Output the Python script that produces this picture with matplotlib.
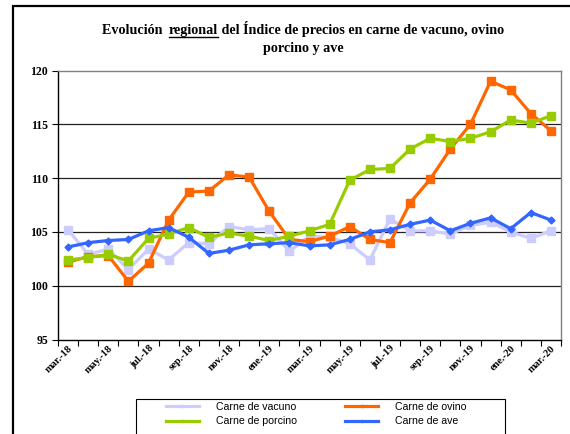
import matplotlib
matplotlib.use('Agg')
import matplotlib.pyplot as plt
from matplotlib.patches import Rectangle

# monthly index, mar-18 .. mar-20
months = ['mar.-18', 'abr.-18', 'may.-18', 'jun.-18', 'jul.-18', 'ago.-18', 'sep.-18',
          'oct.-18', 'nov.-18', 'dic.-18', 'ene.-19', 'feb.-19', 'mar.-19', 'abr.-19',
          'may.-19', 'jun.-19', 'jul.-19', 'ago.-19', 'sep.-19', 'oct.-19', 'nov.-19',
          'dic.-19', 'ene.-20', 'feb.-20', 'mar.-20']

vacuno = [105.2, 102.9, 103.4, 101.5, 103.4, 102.4, 104.0, 103.9, 105.5, 105.2, 105.3,
          103.2, 104.6, 104.5, 103.9, 102.4, 106.2, 105.1, 105.1, 104.8, 105.6, 105.9,
          105.0, 104.4, 105.1]
ovino = [102.2, 102.7, 102.8, 100.4, 102.1, 106.1, 108.7, 108.8, 110.3, 110.1, 106.9,
         104.3, 104.1, 104.6, 105.5, 104.3, 104.0, 107.7, 109.9, 112.7, 115.0, 119.0,
         118.2, 116.0, 114.4]
porcino = [102.4, 102.6, 102.9, 102.3, 104.4, 104.8, 105.4, 104.5, 104.9, 104.6, 104.2,
           104.6, 105.1, 105.7, 109.8, 110.8, 110.9, 112.7, 113.7, 113.4, 113.7, 114.3,
           115.4, 115.1, 115.8]
ave = [103.6, 104.0, 104.2, 104.3, 105.1, 105.4, 104.5, 103.0, 103.3, 103.8, 103.9,
       104.0, 103.7, 103.8, 104.3, 105.0, 105.2, 105.7, 106.1, 105.1, 105.8, 106.3,
       105.3, 106.8, 106.1]

serif = 'Liberation Serif'
sans = 'Liberation Sans'

fig = plt.figure(figsize=(5.7, 4.34), dpi=100)
W, H = 570, 434
ax = fig.add_axes([58 / W, 1 - 339.5 / H, (561 - 58) / W, (339.5 - 70.5) / H])

x = list(range(len(months)))
ax.plot(x, vacuno, color='#CCCCFF', lw=2.3, marker='s', ms=5.5, mec='#CCCCFF', label='Carne de vacuno', zorder=3)
ax.plot(x, ovino, color='#FF6600', lw=2.3, marker='s', ms=5.5, mec='#FF6600', label='Carne de ovino', zorder=4)
ax.plot(x, porcino, color='#99CC00', lw=2.3, marker='s', ms=5.5, mec='#99CC00', label='Carne de porcino', zorder=5)
ax.plot(x, ave, color='#3366FF', lw=2.3, marker='D', ms=3.5, mec='#3366FF', label='Carne de ave', zorder=6)

ax.set_xlim(-0.5, len(months) - 0.5)
ax.set_ylim(95, 120)
ax.set_yticks(range(95, 121, 5))
ax.set_yticklabels([str(v) for v in range(95, 121, 5)], fontfamily=serif, fontweight='bold', fontsize=8.5)
for v in range(100, 120, 5):
    ax.axhline(v, color='#222222', lw=0.9, zorder=1)

ax.set_xticks([i - 0.5 for i in range(len(months) + 1)], minor=False)
ax.set_xticklabels([])
ax.set_xticks(x[::2], minor=True)
ax.set_xticklabels(months[::2], minor=True, rotation=45, ha='right', rotation_mode='anchor',
                   fontfamily=serif, fontweight='bold', fontsize=7.5)
ax.tick_params(axis='x', which='minor', length=0, pad=3)
ax.tick_params(axis='x', which='major', length=4, width=0.8, direction='out')
ax.tick_params(axis='y', length=4, width=0.8, direction='out', pad=3)

ax.spines['left'].set_color('black')
ax.spines['bottom'].set_color('black')
ax.spines['top'].set_color('#808080')
ax.spines['right'].set_color('#808080')
for s in ax.spines.values():
    s.set_linewidth(1.0)

# outer frame of chart area (cut by the image edge)
fig.patches.append(Rectangle((12.5 / W, -0.05), 1.2, 1 - 5.5 / H + 0.05, transform=fig.transFigure,
                             fill=False, edgecolor='black', lw=1.6))

# title with underlined word
fig.canvas.draw()
r = fig.canvas.get_renderer()
parts = ['Evolución  ', 'regional', ' del Índice de precios en carne de vacuno, ovino']
tfont = dict(fontfamily=serif, fontweight='bold', fontsize=10.2)
texts = [fig.text(0, 1 - 34 / H, p, ha='left', va='baseline', **tfont) for p in parts]
widths = [t.get_window_extent(r).width for t in texts]
x0 = 303 - sum(widths) / 2
for t, w in zip(texts, widths):
    t.set_x(x0 / W)
    if t.get_text() == 'regional':
        ux0, ux1 = x0, x0 + w
    x0 += w
fig.add_artist(plt.Line2D([ux0 / W, ux1 / W], [1 - 36.5 / H] * 2, color='black', lw=1.0,
                          transform=fig.transFigure))
fig.text(303 / W, 1 - 52 / H, 'porcino y ave', ha='center', va='baseline', **tfont)

# legend box (cut at bottom like the original)
fig.patches.append(Rectangle((135.5 / W, -0.05), (505 - 135.5) / W, 1 - 398.5 / H + 0.05,
                             transform=fig.transFigure, fill=False, edgecolor='black', lw=0.8))
h, l = ax.get_legend_handles_labels()
order = [0, 2, 1, 3]
leg = fig.legend([h[i] for i in order], [l[i] for i in order], ncol=2,
                 loc='upper left', bbox_to_anchor=(166 / W, 1 - 402 / H),
                 prop=dict(family=sans, size=7.6), frameon=False,
                 handlelength=3.1, handletextpad=1.6,
                 columnspacing=4.6, borderpad=0, labelspacing=0.4, markerscale=0.35,
                 borderaxespad=0)

fig.savefig('out.png', dpi=100)
